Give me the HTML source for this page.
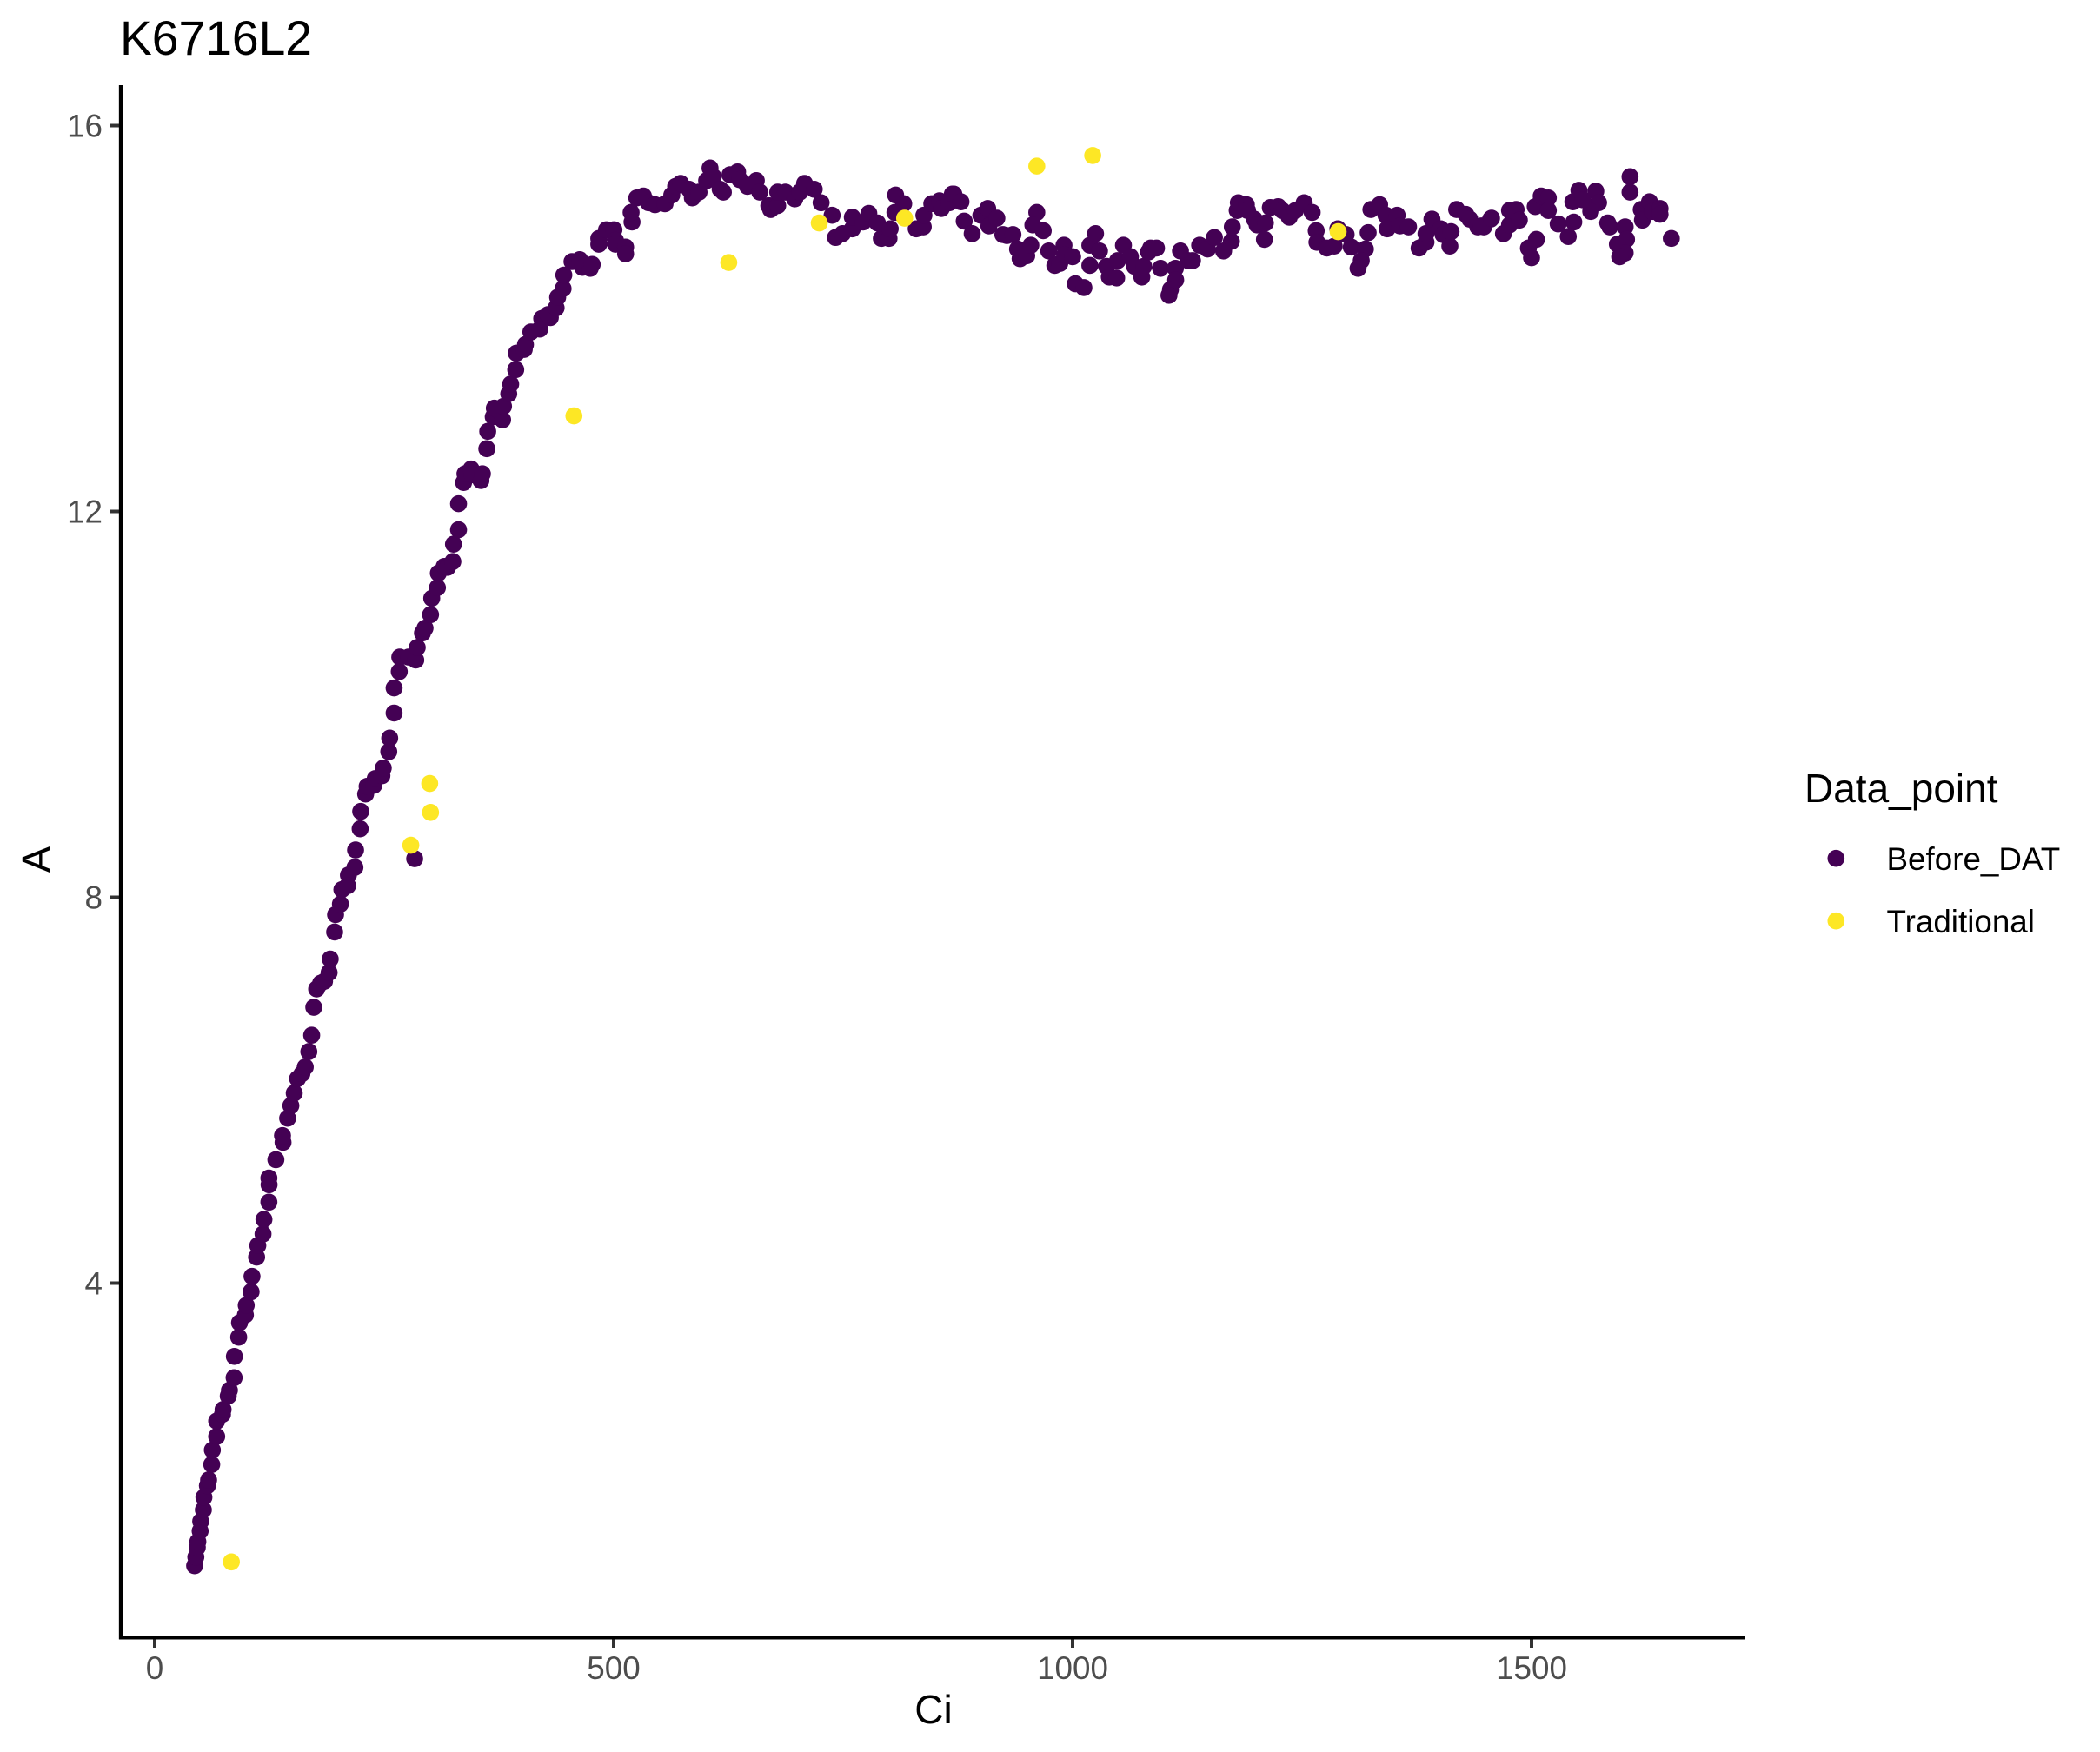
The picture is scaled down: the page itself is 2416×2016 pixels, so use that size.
<!DOCTYPE html>
<html lang="en">
<head>
<meta charset="utf-8">
<title>K6716L2</title>
<style>
html,body{margin:0;padding:0;background:#fff;}
svg{display:block;font-family:"Liberation Sans",Arial,sans-serif;}
</style>
</head>
<body>
<svg id="chart" xmlns="http://www.w3.org/2000/svg" width="2416" height="2016" viewBox="0 0 2416 2016">
  <rect x="0" y="0" width="2416" height="2016" fill="#ffffff"/>
  <text x="138" y="63" font-size="55.2" fill="#000">K6716L2</text>
  <g id="ticks"></g>
  <g id="points-before"></g>
  <g id="points-trad"></g>
  <line x1="139" y1="98" x2="139" y2="1886.4" stroke="#000" stroke-width="4.3"/>
  <line x1="137" y1="1884.3" x2="2008" y2="1884.3" stroke="#000" stroke-width="4.3"/>
  <text transform="translate(58,989) rotate(-90)" text-anchor="middle" font-size="46" fill="#000">A</text>
  <text x="1074" y="1983" text-anchor="middle" font-size="46" fill="#000">Ci</text>
  <g>
    <text x="2076" y="923" font-size="46" fill="#000">Data_point</text>
    <circle cx="2112.3" cy="987.7" r="9.8" fill="#440154"/>
    <text x="2170.5" y="1001" font-size="36.8" fill="#000">Before_DAT</text>
    <circle cx="2112.3" cy="1059.7" r="9.8" fill="#FDE725"/>
    <text x="2170.5" y="1073" font-size="36.8" fill="#000">Traditional</text>
  </g>
</svg>
<script>
var xTickValues = [0, 500, 1000, 1500];
var yTickValues = [4, 8, 12, 16];
var beforeCi = [43.5,44.8,46.4,47,49.5,50.1,53,53.6,57.4,58.7,62.1,62.8,67.5,67.5,73.8,74.5,80.1,81.4,86.5,86.8,91.5,92.4,98.8,99.7,105,106,111,112.3,118,119,124.4,124.6,124.4,132,139.8,139.2,144.8,148.3,152,155.6,160.3,164,167.9,171,173.3,176.4,180.8,185,190,191.2,196,197,202.3,203.9,211,210.2,218.1,218.8,223.8,224.4,229.8,231.4,238.7,240.2,247.5,249,255,256,260.8,260.8,266.4,267,276.5,284.4,286,291.7,294.5,300.5,301.8,308,309,315.4,319,324.8,325.5,331,331,336.5,338,344.7,346,355.4,357,283.2,361.8,362.8,368.8,370,379,380,385.7,387.8,393.3,394,402.6,403.9,409.8,419.5,421.6,431,428.4,437.3,439,444.9,445.7,454.6,463,466,474.5,476.6,483.8,483.8,492.2,500.3,502,502,513,513,520,519,525.2,532.4,538,545,556,563.3,567.5,573,582.3,585.7,593,601.3,608.5,605,616,619.5,626.7,635,637.3,645.7,655.4,659.2,669,671,678.7,678.7,687.2,697.3,702.8,708,718.5,726,738,741.7,749.3,760,760,771.7,778,787.4,791.6,800,801.3,807.2,816,806.4,829.6,837.3,838,846.6,855,857,865.6,869,870.6,878.4,881.9,890.6,900,907.5,908.8,917.5,924,928.4,935,940,942.8,950,954.5,961,956.7,968,974,980.6,986,990.6,991.4,1000,1003,1012.3,1018.8,1018.8,1025,1029.3,1037,1040,1048,1049,1055.4,1063,1067.5,1075.4,1077.5,1082.7,1085,1091.4,1095.8,1112,1112.3,1106.6,1105,1117.5,1126,1130.6,1138.4,1147,1154.5,1164.5,1173,1174,1179.3,1180.6,1189.3,1190.6,1198,1201,1210,1209,1215.4,1224,1228.4,1236,1242.8,1252.3,1261,1265.4,1266.2,1277,1285,1289,1298,1303.6,1319,1314.5,1311,1322,1325,1334.5,1341.4,1342.7,1353.6,1356.7,1366,1377.5,1385,1385,1391.5,1401,1403.6,1411,1412.3,1418.4,1428.4,1432.7,1441.4,1448,1455.4,1445.6,1456.4,1469.4,1476,1476,1483.2,1486.7,1504,1510.5,1518.3,1518.3,1505.3,1496.6,1500,1529,1546,1540,1545,1551.6,1570,1573,1564.5,1556,1583,1585.3,1602,1603.5,1593.5,1602,1596,1607.3,1607.3,1619.5,1620.8,1628.5,1631.6,1640,1640,1652.3];
var beforeA = [1.07,1.16,1.26,1.32,1.43,1.53,1.65,1.78,1.90,1.96,2.12,2.27,2.41,2.57,2.64,2.69,2.83,2.89,3.02,3.24,3.44,3.59,3.67,3.77,3.91,4.07,4.27,4.39,4.51,4.66,4.84,5.02,5.09,5.28,5.46,5.53,5.71,5.84,5.97,6.12,6.17,6.24,6.40,6.57,6.86,7.05,7.11,7.13,7.22,7.36,7.64,7.82,7.93,8.08,8.23,8.12,8.31,8.49,8.71,8.89,9.07,9.15,9.16,9.23,9.26,9.34,9.51,9.65,9.91,10.17,10.34,10.49,10.49,10.46,10.59,10.74,10.79,10.93,11.10,11.21,11.36,11.43,11.42,11.48,11.66,11.81,12.08,12.30,12.39,12.44,12.38,12.32,12.39,8.40,12.65,12.83,12.98,13.07,12.95,13.09,13.22,13.32,13.47,13.64,13.68,13.73,13.86,13.89,14.00,14.01,14.04,14.11,14.22,14.31,14.45,14.59,14.61,14.53,14.52,14.56,14.77,14.83,14.92,14.92,14.81,14.77,14.74,14.67,15.0,15.10,15.25,15.27,15.2,15.18,15.19,15.28,15.37,15.40,15.34,15.25,15.31,15.43,15.47,15.56,15.34,15.31,15.49,15.52,15.44,15.37,15.43,15.31,15.17,15.13,15.17,15.31,15.31,15.24,15.31,15.40,15.34,15.20,15.07,14.84,14.88,14.93,15.05,15.0,15.09,14.99,14.83,14.83,14.93,15.28,15.19,15.10,14.93,14.95,15.07,15.19,15.22,15.14,15.2,15.29,15.29,15.21,15.01,14.88,15.07,15.14,14.96,15.04,14.87,14.86,14.87,14.72,14.62,14.65,14.76,15.10,14.97,14.91,14.70,14.55,14.57,14.76,14.66,14.64,14.36,14.32,14.55,14.76,14.88,14.70,14.54,14.43,14.42,14.60,14.76,14.64,14.54,14.43,14.54,14.69,14.73,14.73,14.52,14.52,14.40,14.30,14.24,14.70,14.60,14.60,14.76,14.72,14.84,14.70,14.80,14.95,15.12,15.20,15.18,15.12,15.03,14.97,14.99,14.82,15.15,15.16,15.12,15.05,15.12,15.20,15.10,14.91,14.79,14.73,14.75,14.93,14.87,14.74,14.72,14.60,14.52,14.89,15.13,15.18,15.07,14.93,15.07,14.96,14.95,14.73,14.79,14.88,15.03,14.93,14.87,14.75,14.90,15.13,15.08,15.03,14.95,14.95,15.03,14.96,15.04,14.88,14.97,15.12,15.13,15.02,15.16,15.27,15.25,15.12,14.82,14.73,14.63,14.98,15.0,14.85,15.21,15.33,15.32,15.20,15.11,15.23,14.99,14.95,14.95,14.82,14.77,14.68,14.64,15.47,15.31,15.13,15.02,15.21,15.11,15.14,15.08,14.83];
var tradCi = [83.5,279,299.6,300.5,456.7,625.4,724,817,961,1021.9,1289.3];
var tradA = [1.11,8.54,9.18,8.88,12.99,14.58,14.99,15.04,15.58,15.69,14.90];

var SVG_NS = 'http://www.w3.org/2000/svg';
function xScale(v) { return 178 + v * 1.056; }
function yScale(v) { return 144.5 + (16 - v) * 111; }

var ticksGroup = document.getElementById('ticks');
xTickValues.forEach(function (v) {
  var line = document.createElementNS(SVG_NS, 'line');
  
  
  line.setAttribute('x1', xScale(v));
  line.setAttribute('x2', xScale(v));
  line.setAttribute('y1', 1884);
  line.setAttribute('y2', 1896);
  line.setAttribute('stroke', '#333333');
  line.setAttribute('stroke-width', 4);
  ticksGroup.appendChild(line);
  var label = document.createElementNS(SVG_NS, 'text');
  
  
  label.setAttribute('x', xScale(v));
  label.setAttribute('y', 1932);
  label.setAttribute('text-anchor', 'middle');
  label.setAttribute('font-size', 36.8);
  label.setAttribute('fill', '#4d4d4d');
  label.textContent = String(v);
  ticksGroup.appendChild(label);
});
yTickValues.forEach(function (v) {
  var line = document.createElementNS(SVG_NS, 'line');
  
  
  line.setAttribute('x1', 127);
  line.setAttribute('x2', 139);
  line.setAttribute('y1', yScale(v));
  line.setAttribute('y2', yScale(v));
  line.setAttribute('stroke', '#333333');
  line.setAttribute('stroke-width', 4);
  ticksGroup.appendChild(line);
  var label = document.createElementNS(SVG_NS, 'text');
  
  
  label.setAttribute('x', 118);
  label.setAttribute('y', yScale(v) + 13);
  label.setAttribute('text-anchor', 'end');
  label.setAttribute('font-size', 36.8);
  label.setAttribute('fill', '#4d4d4d');
  label.textContent = String(v);
  ticksGroup.appendChild(label);
});

var beforeGroup = document.getElementById('points-before');
beforeCi.forEach(function (c, i) {
  var dot = document.createElementNS(SVG_NS, 'circle');
  
  
  dot.setAttribute('cx', xScale(c));
  dot.setAttribute('cy', yScale(beforeA[i]));
  dot.setAttribute('r', 9.8);
  dot.setAttribute('fill', '#440154');
  beforeGroup.appendChild(dot);
});

var tradGroup = document.getElementById('points-trad');
tradCi.forEach(function (c, i) {
  var dot = document.createElementNS(SVG_NS, 'circle');
  
  
  dot.setAttribute('cx', xScale(c));
  dot.setAttribute('cy', yScale(tradA[i]));
  dot.setAttribute('r', 9.8);
  dot.setAttribute('fill', '#FDE725');
  tradGroup.appendChild(dot);
});
</script>
</body>
</html>
